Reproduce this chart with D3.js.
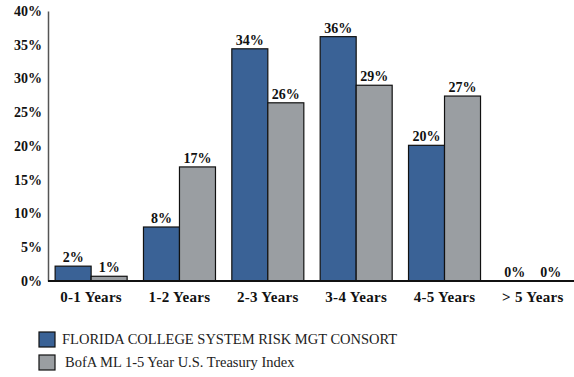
<!DOCTYPE html>
<html>
<head>
<meta charset="utf-8">
<script src="https://cdn.jsdelivr.net/npm/d3@7"></script>
<style>
  html, body { margin: 0; padding: 0; background: #fff; }
  svg { display: block; }
</style>
</head>
<body>
<svg id="chart" width="574" height="377"></svg>
<script>
// Maturity distribution data (percent of portfolio)
const categories = ["0-1 Years", "1-2 Years", "2-3 Years", "3-4 Years", "4-5 Years", "> 5 Years"];
const seriesNames = ["FLORIDA COLLEGE SYSTEM RISK MGT CONSORT", "BofA ML 1-5 Year U.S. Treasury Index"];
const fundValues = [2.2, 8.0, 34.4, 36.2, 20.1, 0];
const indexValues = [0.7, 16.9, 26.4, 29.0, 27.4, 0];
const yTicks = [0, 5, 10, 15, 20, 25, 30, 35, 40];
const colors = ["#3a6296", "#9a9ea2"];

const svg = d3.select("#chart");
const serif = "'Liberation Serif', 'DejaVu Serif', serif";

const x = d3.scaleBand().domain(categories).range([47, 577]).paddingInner(0.185).paddingOuter(0.092);
const xs = d3.scaleBand().domain([0, 1]).range([0, x.bandwidth()]);
const y = d3.scaleLinear().domain([0, 40]).range([281, 11]);

const rows = categories.map((c, i) => ({ c, v: [fundValues[i], indexValues[i]] }));

// Y axis
const yAxis = d3.axisLeft(y).tickValues(yTicks).tickSize(0).tickPadding(6).tickFormat(d => d + "%");
const gy = svg.append("g").attr("transform", "translate(48,0)").call(yAxis);
gy.select(".domain").attr("stroke", "#555").attr("stroke-width", 1.5);
gy.selectAll("text").attr("font-family", serif).attr("font-weight", "bold").attr("font-size", 14).attr("fill", "#111");

// Bars
const groups = svg.append("g").selectAll("g").data(rows).join("g")
  .attr("transform", d => `translate(${x(d.c)},0)`);
groups.selectAll("rect").data(d => d.v.map((v, k) => ({ v, k }))).join("rect")
  .attr("x", d => xs(d.k))
  .attr("width", xs.bandwidth())
  .attr("y", d => y(d.v))
  .attr("height", d => y(0) - y(d.v))
  .attr("fill", d => colors[d.k])
  .attr("stroke", "#111")
  .attr("stroke-width", 1.2);
groups.selectAll("text").data(d => d.v.map((v, k) => ({ v, k }))).join("text")
  .attr("x", d => xs(d.k) + xs.bandwidth() / 2)
  .attr("y", d => y(d.v) - 4)
  .attr("text-anchor", "middle")
  .attr("font-family", serif).attr("font-weight", "bold").attr("font-size", 14).attr("fill", "#111")
  .text(d => Math.round(d.v) + "%");

// X axis baseline and category labels
const xAxis = d3.axisBottom(x).tickSize(0).tickPadding(10);
const gx = svg.append("g").attr("transform", `translate(0,${y(0)})`).call(xAxis);
gx.select(".domain").attr("stroke", "#111").attr("stroke-width", 2).attr("d", "M48,0H574");
gx.selectAll("text").attr("font-family", serif).attr("font-weight", "bold").attr("font-size", 15)
  .attr("letter-spacing", 0.3).attr("fill", "#111");

// Legend
const legend = svg.append("g").selectAll("g").data(seriesNames).join("g")
  .attr("transform", (d, i) => `translate(39,${332 + i * 23})`);
legend.append("rect").attr("width", 16).attr("height", 15)
  .attr("fill", (d, i) => colors[i]).attr("stroke", "#111").attr("stroke-width", 1.2);
legend.append("text").attr("x", (d, i) => i === 0 ? 23 : 26).attr("y", 12)
  .attr("font-family", serif).attr("font-size", 14.5).attr("fill", "#222")
  .text(d => d);
</script>
</body>
</html>
